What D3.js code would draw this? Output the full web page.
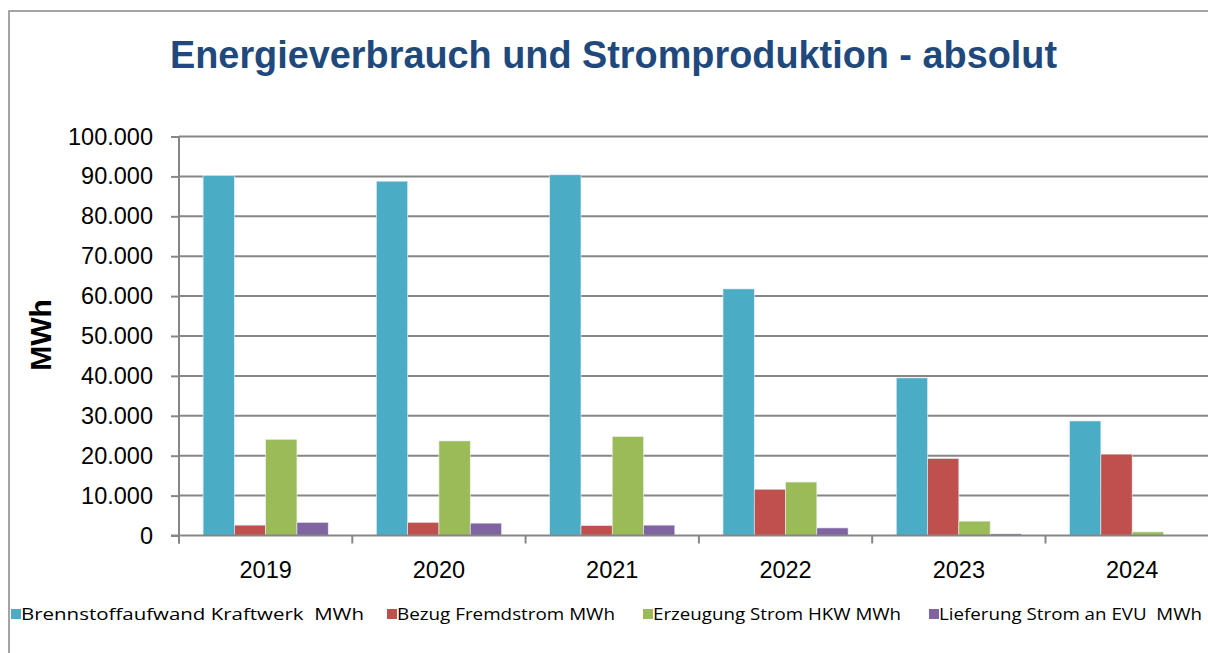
<!DOCTYPE html>
<html>
<head>
<meta charset="utf-8">
<script src="https://cdn.jsdelivr.net/npm/d3@7"></script>
<style>
  body { margin: 0; background: #fff; }
  svg { display: block; }
</style>
</head>
<body>
<div id="chart"></div>
<script>
// data (MWh)
const years = ["2019", "2020", "2021", "2022", "2023", "2024"]
const seriesNames = ["Brennstoffaufwand Kraftwerk  MWh", "Bezug Fremdstrom MWh", "Erzeugung Strom HKW MWh", "Lieferung Strom an EVU  MWh"]
const brennstoff = [90200, 88800, 90400, 61800, 39500, 28700]
const fremdstrom = [2600, 3300, 2500, 11600, 19300, 20400]
const erzeugung = [24100, 23700, 24800, 13400, 3600, 900]
const lieferung = [3300, 3100, 2600, 1900, 400, 0]
const yTicks = [0, 10000, 20000, 30000, 40000, 50000, 60000, 70000, 80000, 90000, 100000]

const colors = ["#4BACC6", "#C0504D", "#9BBB59", "#8064A2"]
const values = [brennstoff, fremdstrom, erzeugung, lieferung]

const W = 1208, H = 653
const plot = {left: 179, top: 136.5, bottom: 535.5, right: 179 + 6 * 173.3}

const svg = d3.select("#chart").append("svg")
    .attr("width", W)
    .attr("height", H)

// outer frame (only top and left edges visible)
svg.append("path")
    .attr("d", `M9,${H} V11 H${W}`)
    .attr("fill", "none")
    .attr("stroke", "#868686")
    .attr("stroke-width", 1.5)

// title
svg.append("text")
    .attr("x", 613.5)
    .attr("y", 68)
    .attr("text-anchor", "middle")
    .style("font-family", "'Liberation Sans', Arial, sans-serif")
    .style("font-weight", "bold")
    .style("font-size", "38px")
    .style("fill", "#1F497D")
    .attr("textLength", 887)
    .attr("lengthAdjust", "spacingAndGlyphs")
    .text("Energieverbrauch und Stromproduktion - absolut")

const x0 = d3.scaleBand()
    .domain(years)
    .range([plot.left, plot.right])
    .paddingInner(0)

const x1 = d3.scaleBand()
    .domain(d3.range(seriesNames.length))
    .range([0, x0.bandwidth()])
    .paddingInner(0)
    .paddingOuter(0.77)

const y = d3.scaleLinear()
    .domain([0, 100000])
    .range([plot.bottom, plot.top])

const fmt = d => d3.format(",")(d).replace(/,/g, ".")

// gridlines
svg.append("g")
  .selectAll("line")
  .data(yTicks.slice(1))
  .enter().append("line")
    .attr("x1", plot.left)
    .attr("x2", plot.right)
    .attr("y1", d => y(d))
    .attr("y2", d => y(d))
    .attr("stroke", "#868686")
    .attr("stroke-width", 2)

// bars
const groups = svg.append("g")
  .selectAll("g")
  .data(years)
  .enter().append("g")
    .attr("transform", d => "translate(" + x0(d) + ",0)")

groups.selectAll("rect")
  .data((d, i) => values.map((v, s) => ({s: s, v: v[i]})))
  .enter().append("rect")
    .attr("x", d => x1(d.s))
    .attr("y", d => y(d.v))
    .attr("width", x1.bandwidth())
    .attr("height", d => plot.bottom - y(d.v))
    .attr("fill", d => colors[d.s])
    .attr("stroke", d => d.v > 0 ? "#e8f0f2" : "none")
    .attr("stroke-width", 0.6)

// y axis
const yAxis = svg.append("g")
    .attr("transform", "translate(" + plot.left + ",0)")
    .call(d3.axisLeft(y).tickValues(yTicks).tickFormat(fmt).tickSize(8).tickPadding(18))
yAxis.select(".domain").remove()
yAxis.append("line")
    .attr("y1", plot.top)
    .attr("y2", plot.bottom + 8)
    .attr("stroke", "#868686")
    .attr("stroke-width", 2)
yAxis.selectAll(".tick line").attr("stroke", "#868686").attr("stroke-width", 2)
yAxis.selectAll(".tick text")
    .style("font-family", "'Liberation Sans', Arial, sans-serif")
    .style("font-size", "23.5px")
    .style("fill", "#000")

// x axis
const xAxis = svg.append("g")
    .attr("transform", "translate(0," + plot.bottom + ")")
xAxis.append("line")
    .attr("x1", plot.left - 8)
    .attr("x2", plot.right)
    .attr("stroke", "#868686")
    .attr("stroke-width", 2)
xAxis.selectAll(".sep")
  .data(years)
  .enter().append("line")
    .attr("x1", d => x0(d))
    .attr("x2", d => x0(d))
    .attr("y1", 0)
    .attr("y2", 8)
    .attr("stroke", "#868686")
    .attr("stroke-width", 2)
xAxis.selectAll(".lbl")
  .data(years)
  .enter().append("text")
    .attr("x", d => x0(d) + x0.bandwidth() / 2)
    .attr("y", 42)
    .attr("text-anchor", "middle")
    .style("font-family", "'Liberation Sans', Arial, sans-serif")
    .style("font-size", "23.5px")
    .text(d => d)

// y title
svg.append("text")
    .attr("transform", "translate(51,335) rotate(-90)")
    .attr("text-anchor", "middle")
    .style("font-family", "'Liberation Sans', Arial, sans-serif")
    .style("font-weight", "bold")
    .style("font-size", "30px")
    .text("MWh")

// legend
const legendX = [11, 387, 643, 929]
const legendW = [343, 218, 248, 263]
const legend = svg.append("g")
  .selectAll("g")
  .data(seriesNames)
  .enter().append("g")
    .attr("transform", (d, i) => "translate(" + legendX[i] + ",609)")
legend.append("rect")
    .attr("width", 10)
    .attr("height", 10)
    .attr("fill", (d, i) => colors[i])
legend.append("text")
    .attr("x", 10)
    .attr("y", 11)
    .style("font-family", "'Open Sans', sans-serif")
    .style("font-size", "16px")
    .style("white-space", "pre")
    .attr("textLength", (d, i) => legendW[i])
    .attr("lengthAdjust", "spacingAndGlyphs")
    .text(d => d)
</script>
</body>
</html>
